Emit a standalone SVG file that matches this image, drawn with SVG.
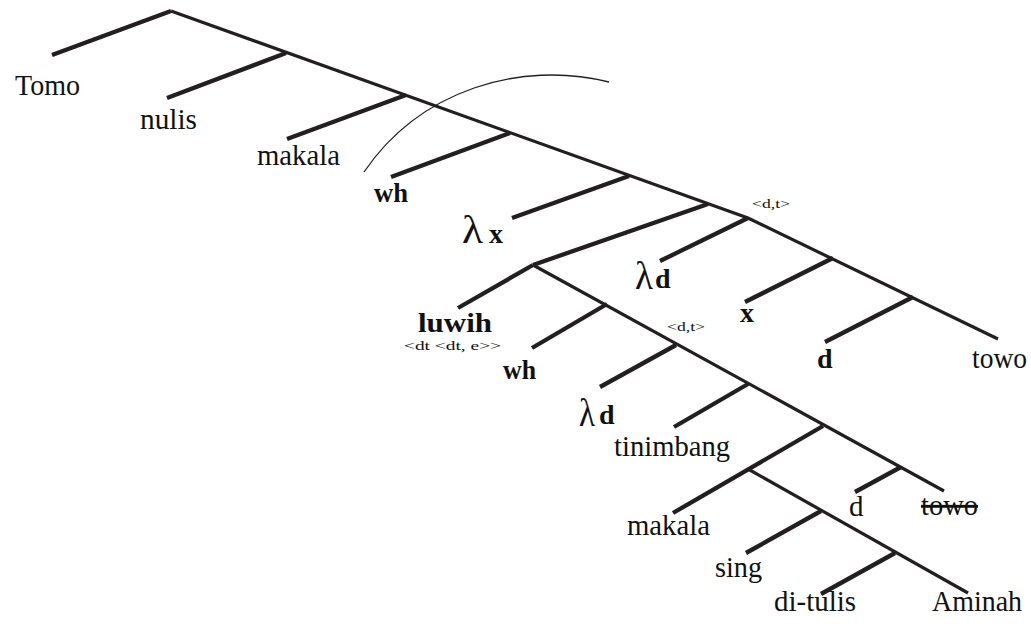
<svg xmlns="http://www.w3.org/2000/svg" width="1031" height="626" viewBox="0 0 1031 626">
<style>
.sp{stroke:#231f20;stroke-width:3.2;fill:none;stroke-linecap:butt}
.br{stroke:#231f20;stroke-width:4.3;fill:none;stroke-linecap:butt}
.arc{stroke:#231f20;stroke-width:1.3;fill:none}
text{font-family:"Liberation Serif","Times New Roman",serif;fill:#111}
.lb{font-size:29px}
.bd{font-size:28px;font-weight:bold}
.sm{font-size:13px}
.lam{font-size:40px}
</style>
<rect width="1031" height="626" fill="#fff"/>
<g id="connectors">
<polyline class="sp" points="171,11 748,218 998,339"/>
<line class="br" x1="171" y1="11" x2="52" y2="55"/>
<line class="br" x1="286" y1="53" x2="167" y2="98"/>
<line class="br" x1="406" y1="95" x2="287" y2="139"/>
<line class="br" x1="510" y1="133" x2="391" y2="177"/>
<line class="br" x1="629" y1="176" x2="512" y2="218"/>
<line class="br" x1="708" y1="204" x2="533" y2="265"/>
<line class="br" x1="748" y1="218" x2="660" y2="261"/>
<line class="br" x1="833" y1="258" x2="745" y2="302"/>
<line class="br" x1="913" y1="297" x2="825" y2="342"/>
<line class="sp" x1="533" y1="265" x2="944" y2="491"/>
<line class="br" x1="533" y1="265" x2="458" y2="308"/>
<line class="br" x1="607" y1="304" x2="532" y2="348"/>
<line class="br" x1="676" y1="345" x2="600" y2="387"/>
<line class="br" x1="748" y1="384" x2="674" y2="427"/>
<line class="br" x1="823" y1="426" x2="673" y2="513"/>
<line class="br" x1="901" y1="467" x2="855" y2="492"/>
<line class="sp" x1="748" y1="469" x2="968" y2="593"/>
<line class="br" x1="821" y1="511" x2="746" y2="553"/>
<line class="br" x1="895" y1="553" x2="821" y2="594"/>
<path class="arc" d="M364,172 C420,90 520,60 609,82"/>
</g>
<g id="n-tomo"><text class="lb" x="15" y="95" textLength="65" lengthAdjust="spacingAndGlyphs">Tomo</text></g>
<g id="n-nulis"><text class="lb" x="140" y="129" textLength="57" lengthAdjust="spacingAndGlyphs">nulis</text></g>
<g id="n-makala1"><text class="lb" x="257" y="165" textLength="83" lengthAdjust="spacingAndGlyphs">makala</text></g>
<g id="n-wh1"><text class="bd" x="374" y="202" textLength="34" lengthAdjust="spacingAndGlyphs">wh</text></g>
<g id="n-lx"><text class="lam" x="462" y="243" textLength="21" lengthAdjust="spacingAndGlyphs">λ</text><text class="bd" x="489" y="243">x</text></g>
<g id="n-dt1"><text class="sm" x="752" y="208" textLength="38" lengthAdjust="spacingAndGlyphs">&lt;d,t&gt;</text></g>
<g id="n-ld1"><text class="lam" x="635" y="289" textLength="18" lengthAdjust="spacingAndGlyphs">λ</text><text class="bd" x="655" y="288">d</text></g>
<g id="n-x"><text class="bd" x="740" y="322">x</text></g>
<g id="n-d1"><text class="bd" x="817" y="368">d</text></g>
<g id="n-towo1"><text class="lb" x="972" y="368" textLength="55" lengthAdjust="spacingAndGlyphs">towo</text></g>
<g id="n-luwih"><text class="bd" x="418" y="332" textLength="74" lengthAdjust="spacingAndGlyphs">luwih</text><text class="sm" x="404" y="350" textLength="97" lengthAdjust="spacingAndGlyphs">&lt;dt &lt;dt, e&gt;&gt;</text></g>
<g id="n-wh2"><text class="bd" x="503" y="379" textLength="33" lengthAdjust="spacingAndGlyphs">wh</text></g>
<g id="n-dt2"><text class="sm" x="667" y="331" textLength="38" lengthAdjust="spacingAndGlyphs">&lt;d,t&gt;</text></g>
<g id="n-ld2"><text class="lam" x="579" y="426" textLength="16" lengthAdjust="spacingAndGlyphs">λ</text><text class="bd" x="599" y="424">d</text></g>
<g id="n-tinimbang"><text class="lb" x="614" y="456" textLength="116" lengthAdjust="spacingAndGlyphs">tinimbang</text></g>
<g id="n-makala2"><text class="lb" x="627" y="535" textLength="83" lengthAdjust="spacingAndGlyphs">makala</text></g>
<g id="n-d2"><text class="lb" x="849" y="516">d</text></g>
<g id="n-towo2"><text class="lb" x="921" y="515" textLength="57" lengthAdjust="spacingAndGlyphs" text-decoration="line-through">towo</text></g>
<g id="n-sing"><text class="lb" x="715" y="577" textLength="47" lengthAdjust="spacingAndGlyphs">sing</text></g>
<g id="n-ditulis"><text class="lb" x="774" y="611" textLength="82" lengthAdjust="spacingAndGlyphs">di-tulis</text></g>
<g id="n-aminah"><text class="lb" x="932" y="611" textLength="90" lengthAdjust="spacingAndGlyphs">Aminah</text></g>
</svg>
